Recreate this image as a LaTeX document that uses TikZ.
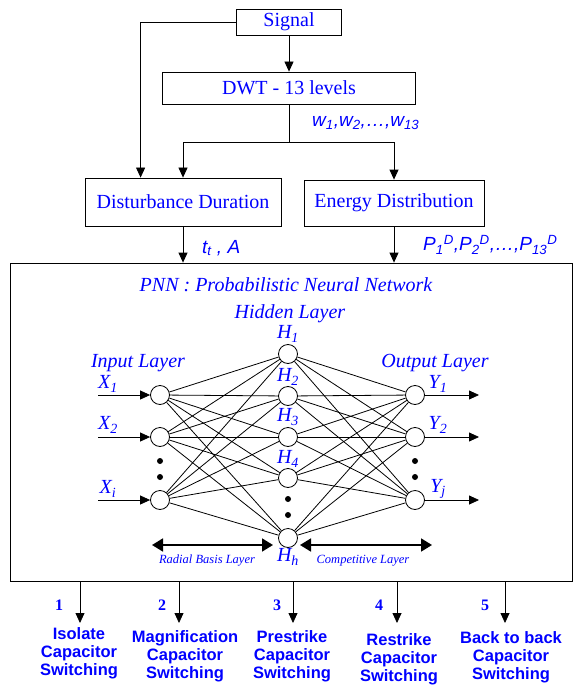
\documentclass[tikz,border=0pt]{standalone}
\usepackage{fontspec}
\setmainfont{Liberation Serif}
\setsansfont{Liberation Sans}
\usetikzlibrary{arrows.meta}

\tikzset{
	box/.style      = {rectangle,draw,line width=0.8pt,text=blue,font=\fontsize{20}{24}\selectfont},
	neuron/.style   = {circle,draw,fill=white,minimum size=19pt,inner sep=0pt,line width=0.8pt},
	lbl/.style      = {text=blue,font=\fontsize{20}{24}\selectfont\itshape,inner sep=0pt},
	sflbl/.style    = {text=blue,font=\fontsize{19}{22}\selectfont\sffamily\itshape,inner sep=0pt},
	small/.style    = {text=blue,font=\fontsize{12.5}{14}\selectfont\itshape,inner sep=0pt},
	classlbl/.style = {text=blue,font=\fontsize{16.5}{18}\selectfont\sffamily\bfseries,align=center,inner sep=0pt},
	num/.style      = {text=blue,font=\fontsize{16}{18}\selectfont\bfseries,inner sep=0pt},
	conn/.style     = {line width=0.8pt,-{Triangle[length=10pt,width=9pt]}},
	link/.style     = {line width=0.8pt},
	span/.style     = {line width=1.8pt,{Triangle[length=11pt,width=13pt]}-{Triangle[length=11pt,width=13pt]}}
}

\begin{document}
\begin{tikzpicture}[x=1pt,y=-1pt]
	\useasboundingbox (0,0) rectangle (574,687);

	% feature extraction
	\node at (289, 22) [box,minimum width=105pt,minimum height=26pt] (signal) {Signal};
	\node at (289, 88) [box,minimum width=253pt,minimum height=32pt] (dwt)    {DWT - 13 levels};
	\node at (183,202) [box,minimum width=196pt,minimum height=48pt] (dist)   {Disturbance Duration};
	\node at (394,203) [box,minimum width=180pt,minimum height=46pt] (energy) {Energy Distribution};
	\coordinate (split) at (289,142);

	\draw[conn] (signal.west) -| ([xshift=56pt]dist.north west);
	\draw[conn] (signal) -- (dwt);
	\draw[link] (dwt) -- (split);
	\draw[conn] (split) -| (dist.north);
	\draw[conn] (split) -| (energy.north);

	\node at (312,123) [sflbl,anchor=west] (wlbl) {w\textsubscript{1},w\textsubscript{2},\dots,w\textsubscript{13}};

	% PNN
	\node at (291,422) [draw,line width=0.8pt,minimum width=562pt,minimum height=318pt] (pnn) {};
	\node at (286,285) [lbl] (title) {PNN : Probabilistic Neural Network};

	\draw[conn] (dist)   -- (dist.south |- pnn.north);
	\draw[conn] (energy) -- (energy.south |- pnn.north);
	\node at (202,248) [sflbl,anchor=west] (tlbl) {t\textsubscript{t} , A};
	\node at (423,245) [sflbl,anchor=west] (plbl) {P\textsubscript{1}\textsuperscript{D},P\textsubscript{2}\textsuperscript{D},\dots,P\textsubscript{13}\textsuperscript{D}};

	\node at (138,363) [lbl] (inlayer)  {Input Layer};
	\node at (290,314) [lbl] (hidlayer) {Hidden Layer};
	\node at (435,363) [lbl] (outlayer) {Output Layer};

	\node at (160,395) [neuron] (x1) {};
	\node at (160,437) [neuron] (x2) {};
	\node at (160,500) [neuron] (xi) {};
	\node at (288,354) [neuron] (h1) {};
	\node at (288,396) [neuron] (h2) {};
	\node at (288,437) [neuron] (h3) {};
	\node at (288,478) [neuron] (h4) {};
	\node at (288,538) [neuron] (hh) {};
	\node at (415,395) [neuron] (y1) {};
	\node at (415,437) [neuron] (y2) {};
	\node at (415,500) [neuron] (yj) {};

	\foreach \a in {x1,x2,xi}
		\foreach \b in {h1,h2,h3,h4,hh}
			\draw[link] (\a) -- (\b);
	\foreach \b in {h1,h2,h3,h4,hh}
		\foreach \c in {y1,y2,yj}
			\draw[link] (\b) -- (\c);

	\node at (108,384) [lbl] (x1lbl) {X\textsubscript{1}};
	\node at (108,425) [lbl] (x2lbl) {X\textsubscript{2}};
	\node at (108,489) [lbl] (xilbl) {X\textsubscript{i}};
	\node at (288,334) [lbl] (h1lbl) {H\textsubscript{1}};
	\node at (288,377) [lbl] (h2lbl) {H\textsubscript{2}};
	\node at (288,417) [lbl] (h3lbl) {H\textsubscript{3}};
	\node at (288,459) [lbl] (h4lbl) {H\textsubscript{4}};
	\node at (288,557) [lbl] (hhlbl) {H\textsubscript{h}};
	\node at (438,384) [lbl] (y1lbl) {Y\textsubscript{1}};
	\node at (438,425) [lbl] (y2lbl) {Y\textsubscript{2}};
	\node at (438,489) [lbl] (yjlbl) {Y\textsubscript{j}};

	\coordinate (x1in) at (98,395);
	\coordinate (x2in) at (98,437);
	\coordinate (xiin) at (98,500);
	\coordinate (y1out) at (479,395);
	\coordinate (y2out) at (479,437);
	\coordinate (yjout) at (479,500);
	\draw[conn] (x1in) -- (x1);
	\draw[conn] (x2in) -- (x2);
	\draw[conn] (xiin) -- (xi);
	\draw[conn] (y1) -- (y1out);
	\draw[conn] (y2) -- (y2out);
	\draw[conn] (yj) -- (yjout);

	% dots
	\foreach \x/\y in {160/461,160/477,288/499,288/515,415/461,415/477}
		\fill (\x,\y) circle (3pt);

	\coordinate (rbl) at (152,545);
	\coordinate (rbr) at (273,545);
	\coordinate (cpl) at (300,545);
	\coordinate (cpr) at (432,545);
	\draw[span] (rbl) -- (rbr);
	\draw[span] (cpl) -- (cpr);
	\node at (207,561) [small] (rblbl) {Radial Basis Layer};
	\node at (363,561) [small] (cplbl) {Competitive Layer};

	% classes
	\coordinate (c1) at (80,623);
	\coordinate (c2) at (179,623);
	\coordinate (c3) at (293,623);
	\coordinate (c4) at (397,623);
	\coordinate (c5) at (505,623);
	\foreach \c in {c1,c2,c3,c4,c5}
		\draw[conn] (pnn.south -| \c) -- (\c);

	\node at ( 59,605) [num] (n1) {1};
	\node at (162,605) [num] (n2) {2};
	\node at (277,605) [num] (n3) {3};
	\node at (379,605) [num] (n4) {4};
	\node at (485,605) [num] (n5) {5};

	\node at ( 79,653) [classlbl] (isolate)  {Isolate\\Capacitor\\Switching};
	\node at (185,656) [classlbl] (magnif)   {Magnification\\Capacitor\\Switching};
	\node at (292,656) [classlbl] (prestr)   {Prestrike\\Capacitor\\Switching};
	\node at (399,659) [classlbl] (restr)    {Restrike\\Capacitor\\Switching};
	\node at (511,657) [classlbl] (backtob)  {Back to back\\Capacitor\\Switching};
\end{tikzpicture}
\end{document}
